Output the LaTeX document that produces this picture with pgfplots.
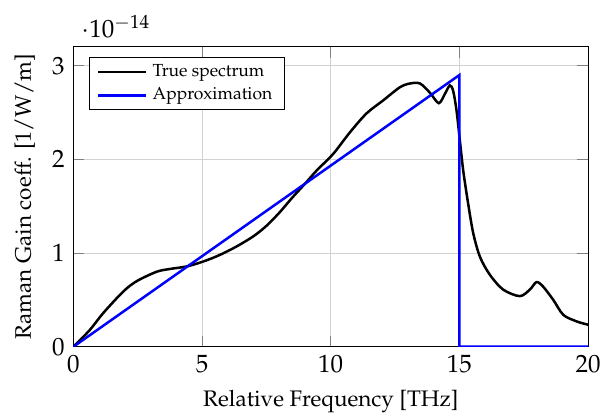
\documentclass[border=0pt]{standalone}
\usepackage[T1]{fontenc}
\usepackage{mathpazo}
\usepackage{pgfplots}
\pgfplotsset{compat=1.18}
\begin{document}
\begin{tikzpicture}
\begin{axis}[
  scale only axis,
  width=206pt, height=120pt,
  xmin=0, xmax=20,
  ymin=0, ymax=3.2e-14,
  xtick={0,5,10,15,20},
  ytick={0,1e-14,2e-14,3e-14},
  grid=major,
  grid style={gray!35},
  xlabel={Relative Frequency [THz]},
  ylabel={Raman Gain coeff. [1/W/m]},
  label style={font=\small},
  legend style={at={(0.03,0.965)}, anchor=north west, font=\scriptsize, draw=black, cells={anchor=west}, inner ysep=0.5pt, row sep=-1pt},
  legend cell align=left,
  legend image code/.code={\draw[#1] (0cm,0cm) -- (0.68cm,0cm);},
]
\addplot[black, line width=1pt, smooth, tension=0.5] coordinates {
(0,0) (0.64,0.18e-14) (1.16,0.36e-14) (1.94,0.59e-14) (2.46,0.70e-14) (3.23,0.80e-14)
(3.75,0.83e-14) (4.40,0.857e-14) (5.05,0.91e-14) (5.69,0.98e-14) (6.34,1.07e-14)
(7.0,1.18e-14) (7.5,1.29e-14) (8.0,1.43e-14) (8.5,1.59e-14) (9.0,1.74e-14) (9.45,1.88e-14)
(10.10,2.06e-14) (10.75,2.29e-14) (11.39,2.49e-14) (12.04,2.63e-14) (12.69,2.77e-14)
(13.08,2.81e-14) (13.47,2.81e-14) (13.86,2.71e-14) (14.20,2.60e-14) (14.44,2.70e-14)
(14.63,2.79e-14) (14.76,2.73e-14) (14.89,2.52e-14) (15.02,2.20e-14) (15.15,1.88e-14)
(15.34,1.53e-14) (15.54,1.21e-14) (15.80,0.96e-14) (16.18,0.77e-14) (16.70,0.61e-14)
(17.35,0.54e-14) (17.74,0.61e-14) (18.00,0.69e-14) (18.26,0.64e-14) (18.65,0.50e-14)
(19.04,0.34e-14) (19.56,0.27e-14) (20,0.235e-14)
};
\addlegendentry{True spectrum}
\addplot[blue, line width=1pt] coordinates {(0,0) (15,2.9e-14) (15,0) (20,0)};
\addlegendentry{Approximation}
\end{axis}
\pgfresetboundingbox
\path ([xshift=-29.4pt,yshift=-27.6pt]current axis.south west) rectangle ([xshift=6pt,yshift=18.8pt]current axis.north east);
\end{tikzpicture}
\end{document}
